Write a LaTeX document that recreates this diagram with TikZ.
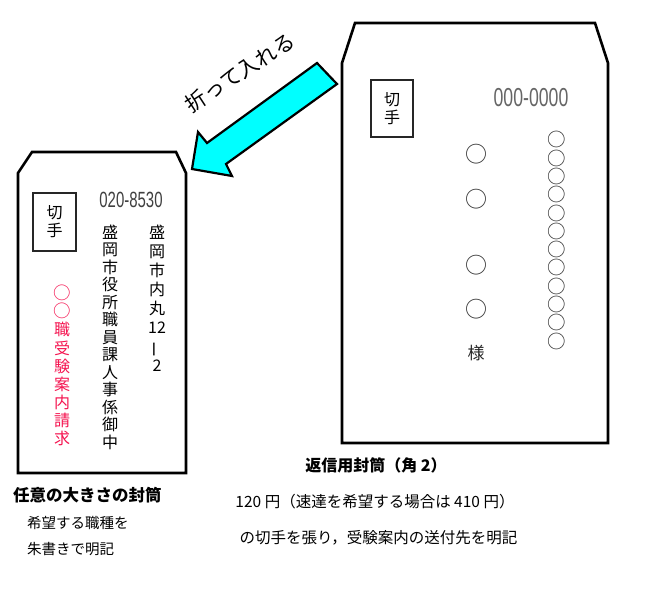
\documentclass[tikz,border=0pt]{standalone}
\usepackage{fontspec}
\newfontfamily\cjk{Noto Sans CJK JP}
\newfontfamily\narrowfont[FakeStretch=0.68]{Liberation Sans}
\definecolor{redtxt}{RGB}{245,20,80}
\definecolor{arrowcyan}{RGB}{0,255,255}
\newcommand{\vbar}{\rotatebox[origin=c]{90}{ー}}
\newcommand{\bigmaru}{{\fontsize{17.5}{18.1}\selectfont ○}}
\begin{document}
\begin{tikzpicture}[x=1pt,y=-1pt,
  env/.style={draw=black, line width=2.6pt, line join=miter, fill=white},
  stampbox/.style={draw=black!85, line width=1.3pt},
  stamptxt/.style={font=\cjk\fontsize{16}{18}\selectfont, align=center, inner sep=0pt},
  vcol/.style={font=\cjk\fontsize{16}{#1}\selectfont, align=center, inner sep=0pt},
  vcol/.default=18.3,
  maru/.style={font=\cjk\fontsize{22}{22}\selectfont, inner sep=0pt, text=black!80},
  label/.style={font=\cjk\fontsize{#1}{#1}\selectfont, inner sep=0pt},
  blabel/.style={font=\cjk\bfseries\fontsize{#1}{#1}\selectfont, inner sep=0pt}
]
\useasboundingbox (0,0) rectangle (670,590);

% ---------- left envelope ----------
\draw[env] (18,473) -- (18,173) -- (32,152) -- (176,152) -- (186,173) -- (186,473) -- cycle;
\node[stampbox, minimum width=43pt, minimum height=58pt, inner sep=0pt] (stampL) at (54.5,222) {};
\node[stamptxt] (stampLt) at (stampL.center) {切\\手};
\node[font=\narrowfont\fontsize{22}{22}\selectfont, text=black!75, inner sep=0pt] (zipL) at (131,200) {020-8530};
\node[vcol=19] (addr) at (157,298.5) {盛\\岡\\市\\内\\丸\\12\\\vbar\\2};
\node[vcol=17.5] (dest) at (110,337) {盛\\岡\\市\\役\\所\\職\\員\\課\\人\\事\\係\\御\\中};
\node[vcol=18.1, text=redtxt] (req) at (62,365.5) {\bigmaru\\\bigmaru\\職\\受\\験\\案\\内\\請\\求};

% ---------- right envelope ----------
\draw[env] (342,443) -- (342,63) -- (355,23) -- (595,23) -- (608,63) -- (608,443) -- cycle;
\node[stampbox, minimum width=42pt, minimum height=57pt, inner sep=0pt] (stampR) at (392,108.5) {};
\node[stamptxt] (stampRt) at (stampR.center) {切\\手};
\node[font=\narrowfont\fontsize{26}{26}\selectfont, text=black!60, inner sep=0pt] (zipR) at (531,98) {000-0000};
\node[maru] (m1) at (476,154) {○};
\node[maru] (m2) at (476,199) {○};
\node[maru] (m3) at (476,265) {○};
\node[maru] (m4) at (476,309) {○};
\node[label=17, text=black!85] (sama) at (476,353) {様};
\node[font=\cjk\fontsize{18.5}{18.3}\selectfont, align=center, inner sep=0pt, text=black!80] (addrR) at (557,240.5) {○\\○\\○\\○\\○\\○\\○\\○\\○\\○\\○\\○};

% ---------- arrow ----------
\draw[fill=arrowcyan, draw=black, line width=2.2pt, line join=miter]
  (317,63) -- (337,84) -- (226,164) -- (232,176) -- (192,169) -- (198,132) -- (207,143) -- cycle;
\node[label=21, rotate=33] (fold) at (240,72.5) {折って入れる};

% ---------- captions ----------
\node[blabel=16] (capR) at (376,465) {返信用封筒（角 2）};
\node[label=15.5] (noteR1) at (375,502) {120 円（速達を希望する場合は 410 円）};
\node[label=15.5] (noteR2) at (378.5,538) {の切手を張り，受験案内の送付先を明記};
\node[blabel=16.5, anchor=west] (capL) at (13,495) {任意の大きさの封筒};
\node[label=14.5, anchor=west] (noteL1) at (27,523) {希望する職種を};
\node[label=14.5, anchor=west] (noteL2) at (27,549) {朱書きで明記};
\end{tikzpicture}
\end{document}
